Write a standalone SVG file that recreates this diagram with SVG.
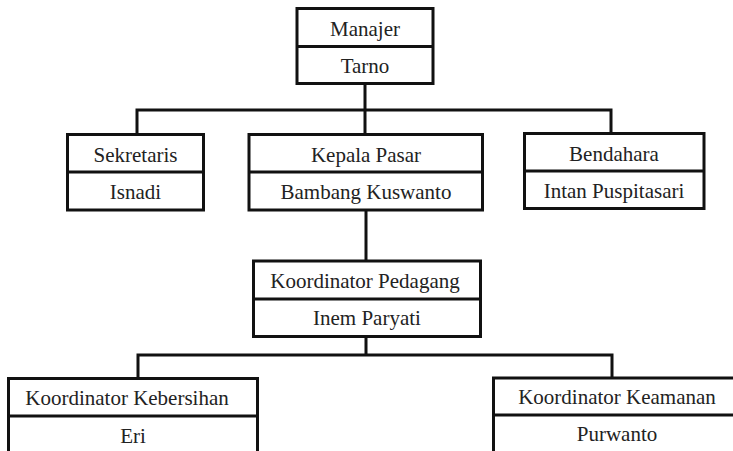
<svg xmlns="http://www.w3.org/2000/svg" width="733" height="451" viewBox="0 0 733 451">
<style>
.box{fill:#fff;stroke:#111;stroke-width:3}
.div{stroke:#111;stroke-width:3}
.con{fill:none;stroke:#111;stroke-width:3}
text{font-family:"Liberation Serif","Times New Roman",serif;font-size:21px;fill:#222;text-anchor:middle}
</style>
<rect width="733" height="451" fill="#fff"/>
<g id="connectors">
<path class="con" d="M365,83 V134 M137,134 V110 H611 V134"/>
<path class="con" d="M366,210 V261"/>
<path class="con" d="M366,337 V355 M138,378 V355 H612 V378"/>
</g>
<g id="manajer">
<rect class="box" x="297" y="8.5" width="136" height="75"/>
<line class="div" x1="297" y1="46.5" x2="433" y2="46.5"/>
<text x="365" y="36">Manajer</text>
<text x="365" y="73">Tarno</text>
</g>
<g id="sekretaris">
<rect class="box" x="67.5" y="134.5" width="136" height="75.5"/>
<line class="div" x1="67.5" y1="172" x2="203.5" y2="172"/>
<text x="135.5" y="161.5">Sekretaris</text>
<text x="135.5" y="199">Isnadi</text>
</g>
<g id="kepala-pasar">
<rect class="box" x="249" y="134.5" width="233.5" height="75.5"/>
<line class="div" x1="249" y1="172" x2="482.5" y2="172"/>
<text x="366" y="161.5">Kepala Pasar</text>
<text x="366" y="199">Bambang Kuswanto</text>
</g>
<g id="bendahara">
<rect class="box" x="524.5" y="133.5" width="179.5" height="75"/>
<line class="div" x1="524.5" y1="171" x2="704" y2="171"/>
<text x="614" y="160.5">Bendahara</text>
<text x="614" y="198">Intan Puspitasari</text>
</g>
<g id="koordinator-pedagang">
<rect class="box" x="253.5" y="261" width="227" height="75.5"/>
<line class="div" x1="253.5" y1="299" x2="480.5" y2="299"/>
<text x="365" y="288">Koordinator Pedagang</text>
<text x="367" y="325">Inem Paryati</text>
</g>
<g id="koordinator-kebersihan">
<rect class="box" x="8.5" y="378.5" width="249" height="90"/>
<line class="div" x1="8.5" y1="416" x2="257.5" y2="416"/>
<text x="127" y="405">Koordinator Kebersihan</text>
<text x="133" y="442.5">Eri</text>
</g>
<g id="koordinator-keamanan">
<rect class="box" x="493.5" y="378" width="250" height="90"/>
<line class="div" x1="493.5" y1="415" x2="743.5" y2="415"/>
<text x="617" y="404">Koordinator Keamanan</text>
<text x="617" y="441">Purwanto</text>
</g>
</svg>
